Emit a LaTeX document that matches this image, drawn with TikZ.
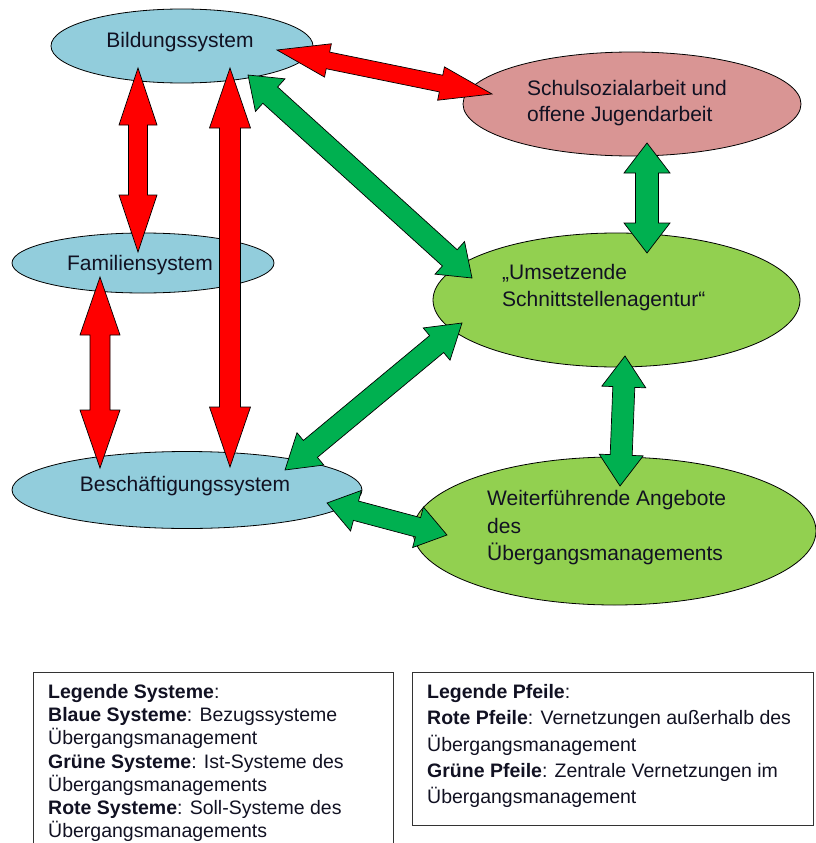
\documentclass[tikz,border=0pt]{standalone}
\usepackage{fontspec}
\setmainfont{Liberation Sans}
\usetikzlibrary{calc,shapes.geometric}
\definecolor{blueS}{HTML}{92CDDC}
\definecolor{pinkS}{HTML}{D99594}
\definecolor{greenS}{HTML}{92D050}
\definecolor{greenA}{HTML}{00B050}
\definecolor{redA}{HTML}{FF0000}
\definecolor{txt}{HTML}{111122}

\tikzset{
 sysell/.style={ellipse, draw=black, line width=0.8pt, inner sep=0pt},
 systext/.style={font=\fontsize{21}{27}\selectfont, align=left, inner sep=0pt, text=txt},
 blockarrow/.style={draw=black, line width=0.7pt, line join=miter},
 legbox/.style={draw=black!80, line width=1pt},
 legtext/.style={align=left, inner sep=0pt, text=txt},
}

% #1 from, #2 to, #3 colour, #4 shaft half width, #5 head half width, #6 head length
\newcommand\blockarrow[6]{%
  \path let \p1=(#1), \p2=(#2) in \pgfextra{%
    \pgfmathsetmacro\BAang{atan2(\y2-\y1,\x2-\x1)}%
    \pgfmathsetmacro\BAlen{veclen(\x2-\x1,\y2-\y1)}%
    \pgfmathsetmacro\BAm{\BAlen-#6}%
    \xdef\BAangG{\BAang}\xdef\BAlenG{\BAlen}\xdef\BAmG{\BAm}};
  \draw[blockarrow, fill=#3, shift={(#1)}, rotate=\BAangG]
    (0pt,0pt) -- (#6pt,#5pt) -- (#6pt,#4pt) -- (\BAmG pt,#4pt) -- (\BAmG pt,#5pt)
    -- (\BAlenG pt,0pt) -- (\BAmG pt,-#5pt) -- (\BAmG pt,-#4pt) -- (#6pt,-#4pt)
    -- (#6pt,-#5pt) -- cycle;
}

\begin{document}
\begin{tikzpicture}[x=1pt,y=-1pt]
\useasboundingbox (0,0) rectangle (816,843);

% systems
\node[sysell, fill=blueS, minimum width=262pt, minimum height=74pt] (bild) at (182,46) {};
\node[sysell, fill=blueS, minimum width=262pt, minimum height=60pt] (fam) at (143,263) {};
\node[sysell, fill=blueS, minimum width=350pt, minimum height=77pt] (besch) at (187,490) {};
\node[sysell, fill=pinkS, minimum width=338pt, minimum height=104pt] (schul) at (632,104) {};
\node[sysell, fill=greenS, minimum width=367pt, minimum height=134pt] (umsetz) at (616.5,300) {};
\node[sysell, fill=greenS, minimum width=403pt, minimum height=148pt] (weiter) at (614.5,531) {};

% arrow end points
\coordinate (r1a) at (138,68);  \coordinate (r1b) at (138,252);
\coordinate (r2a) at (230,68);  \coordinate (r2b) at (230,467);
\coordinate (r3a) at (100,277); \coordinate (r3b) at (100,468);
\coordinate (r4a) at (277,50);  \coordinate (r4b) at (492,94);
\coordinate (g1a) at (248,75);  \coordinate (g1b) at (472,278);
\coordinate (g2a) at (647,143); \coordinate (g2b) at (647,253);
\coordinate (g3a) at (462,323); \coordinate (g3b) at (285,470);
\coordinate (g4a) at (625,356); \coordinate (g4b) at (620,486);
\coordinate (g5a) at (327,503); \coordinate (g5b) at (447,535);

\blockarrow{r1a}{r1b}{redA}{9.5}{19}{57}
\blockarrow{r2a}{r2b}{redA}{10.5}{20.5}{60}
\blockarrow{r3a}{r3b}{redA}{10}{20}{58}
\blockarrow{r4a}{r4b}{redA}{8.5}{17}{52}
\blockarrow{g1a}{g1b}{greenA}{11}{22}{30}
\blockarrow{g2a}{g2b}{greenA}{11.5}{23}{30}
\blockarrow{g3a}{g3b}{greenA}{11}{21}{33}
\blockarrow{g4a}{g4b}{greenA}{11}{22}{31}
\blockarrow{g5a}{g5b}{greenA}{10}{21}{30}

% texts
\node[systext, anchor=base] (bildT) at (180,48) {Bildungssystem};
\node[systext, anchor=base] (famT) at (140,270) {Familiensystem};
\node[systext, anchor=base] (beschT) at (185,491) {Beschäftigungssystem};
\node[systext, anchor=west, font=\fontsize{21}{26}\selectfont] (schulT) at (527,103)
  {Schulsozialarbeit und\\offene Jugendarbeit};
\node[systext, anchor=west] (umsetzT) at (502,288)
  {„Umsetzende\\Schnittstellenagentur“};
\node[systext, anchor=west, font=\fontsize{21}{27.5}\selectfont] (weiterT) at (487,528)
  {Weiterführende Angebote\\des\\Übergangsmanagements};

% legends
\draw[legbox] (33,845) -- (33,672) -- (393,672) -- (393,845);
\node[legtext, anchor=west, font=\fontsize{19.5}{23.2}\selectfont] (legS) at (48,763)
  {\textbf{Legende Systeme}:\\
   \textbf{Blaue Systeme}: Bezugssysteme\\
   Übergangsmanagement\\
   \textbf{Grüne Systeme}: Ist-Systeme des\\
   Übergangsmanagements\\
   \textbf{Rote Systeme}: Soll-Systeme des\\
   Übergangsmanagements};
\draw[legbox] (412,672) rectangle (813,825);
\node[legtext, anchor=west, font=\fontsize{19.5}{26.2}\selectfont] (legP) at (427,746)
  {\textbf{Legende Pfeile}:\\
   \textbf{Rote Pfeile}: Vernetzungen außerhalb des\\
   Übergangsmanagement\\
   \textbf{Grüne Pfeile}: Zentrale Vernetzungen im\\
   Übergangsmanagement};
\end{tikzpicture}
\end{document}
